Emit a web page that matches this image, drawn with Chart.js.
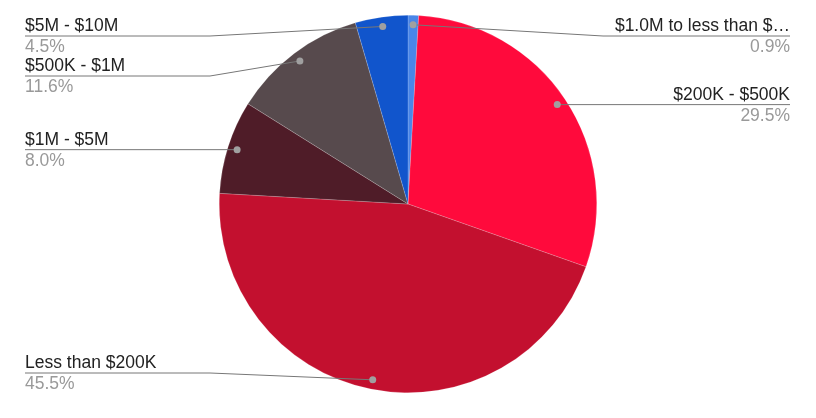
<!DOCTYPE html>
<html>
<head>
<meta charset="utf-8">
<script src="https://cdn.jsdelivr.net/npm/chart.js@4"></script>
<style>
  html, body { margin: 0; padding: 0; background: #fff; }
  #wrap { width: 816px; height: 418px; position: relative; }
</style>
</head>
<body>
<div id="wrap"><canvas id="pie"></canvas></div>
<script>
// slices, clockwise from 12 o'clock
const categories = ["$1.0M to less than $…", "$200K - $500K", "Less than $200K", "$1M - $5M", "$500K - $1M", "$5M - $10M"];
const shares = [0.9, 29.5, 45.5, 8.0, 11.6, 4.5];
const sliceColors = ["#4a86e8", "#ff0a3c", "#c3102f", "#4f1c28", "#574a4d", "#1155cc"];

const textColor = "#222222";
const pctColor = "#999999";
const leaderColor = "#777777";
const font = "17.5px 'Liberation Sans', Arial, sans-serif";

// google-style outside labels with leader lines
const leaderLabels = {
    id: "leaderLabels",
    afterDatasetsDraw(chart) {
        const ctx = chart.ctx;
        const arcs = chart.getDatasetMeta(0).data;
        const left = [], right = [];

        arcs.forEach(function (arc, i) {
            const mid = (arc.startAngle + arc.endAngle) / 2;
            const r = arc.outerRadius * 0.95;
            const px = arc.x + Math.cos(mid) * r;
            const py = arc.y + Math.sin(mid) * r;
            const item = { i: i, px: px, py: py, ly: Math.min(Math.max(py, 36), 373) };
            (px < arc.x ? left : right).push(item);
        });

        [left, right].forEach(function (side) {
            side.sort(function (a, b) { return a.py - b.py; });
            for (let k = 1; k < side.length; k++) {
                if (side[k].ly < side[k - 1].ly + 40) side[k].ly = side[k - 1].ly + 40;
            }
        });

        ctx.save();
        ctx.font = font;
        ctx.lineWidth = 1;

        function draw(item, isLeft) {
            const txtX = isLeft ? 25 : 790;
            const elbowX = isLeft ? Math.min(210, item.px) : Math.max(603, item.px);
            ctx.strokeStyle = leaderColor;
            ctx.beginPath();
            ctx.moveTo(txtX, item.ly);
            ctx.lineTo(elbowX, item.ly);
            ctx.lineTo(item.px, item.py);
            ctx.stroke();

            ctx.fillStyle = "#a0a0a0";
            ctx.beginPath();
            ctx.arc(item.px, item.py, 3.5, 0, Math.PI * 2);
            ctx.fill();

            ctx.textAlign = isLeft ? "left" : "right";
            ctx.textBaseline = "alphabetic";
            ctx.fillStyle = textColor;
            ctx.fillText(categories[item.i], txtX, item.ly - 5);
            ctx.fillStyle = pctColor;
            ctx.fillText(shares[item.i].toFixed(1) + "%", txtX, item.ly + 16);
        }

        left.forEach(function (it) { draw(it, true); });
        right.forEach(function (it) { draw(it, false); });
        ctx.restore();
    }
};

new Chart(document.getElementById("pie"), {
    type: "pie",
    data: {
        labels: categories,
        datasets: [{
            data: shares,
            backgroundColor: sliceColors,
            borderColor: "rgba(255,255,255,0.35)",
            borderWidth: 0.5
        }]
    },
    options: {
        responsive: true,
        maintainAspectRatio: false,
        animation: false,
        layout: { padding: { top: 15, bottom: 25, left: 0, right: 0 } },
        plugins: {
            legend: { display: false },
            tooltip: { enabled: false }
        }
    },
    plugins: [leaderLabels]
});
</script>
</body>
</html>
